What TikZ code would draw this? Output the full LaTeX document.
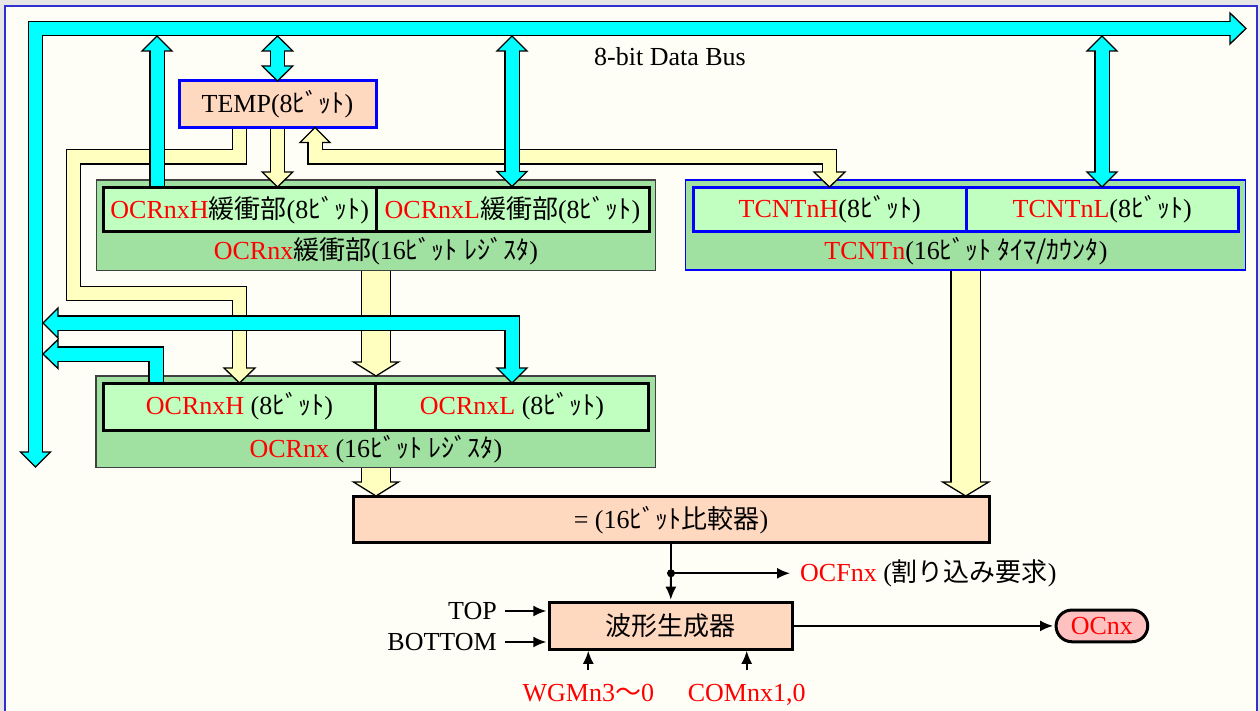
\documentclass[tikz,border=0pt]{standalone}
\usepackage{fontspec}
\setmainfont{Liberation Serif}
\newfontfamily\jp{Noto Sans CJK JP}
\usetikzlibrary{arrows.meta}

\definecolor{outerbg}{HTML}{E6E6E6}
\definecolor{pagebg}{HTML}{FFFEF6}
\definecolor{pageedge}{HTML}{3030D0}
\definecolor{regdark}{HTML}{A0E0A0}
\definecolor{reglight}{HTML}{C0FFC0}
\definecolor{peach}{HTML}{FFD8C0}
\definecolor{pinkfill}{HTML}{FFC0C0}
\definecolor{pathyel}{HTML}{FFFFC0}
\definecolor{busblue}{HTML}{0000FF}
\definecolor{busfill}{HTML}{00FFFF}

% half-width katakana words
\newcommand\hbit{{\jp ﾋﾞｯﾄ}}
\newcommand\hreg{{\jp ﾚｼﾞｽﾀ}}
\newcommand\rd[1]{\textcolor{red}{#1}}

% broad arrow: outline stroke, heads, then the fill stroke on top
% #1 fill colour, #2 outer width, #3 fill width, #4 path, #5 heads
\newcommand\fatarrow[5]{%
  \draw[black,line width=#2,line join=miter,line cap=butt] #4;
  #5%
  \draw[#1,line width=#3,line join=miter,line cap=butt] #4;}
% heads: #1 colour, #2 #3 tip, #4 half width, #5 length
\newcommand\headD[5]{\filldraw[fill=#1,draw=black,line width=1.3pt,line join=miter] (#2,#3) -- ++(-#4,-#5) -- ++(2*#4,0) -- cycle;}
\newcommand\headU[5]{\filldraw[fill=#1,draw=black,line width=1.3pt,line join=miter] (#2,#3) -- ++(-#4,#5) -- ++(2*#4,0) -- cycle;}
\newcommand\headL[5]{\filldraw[fill=#1,draw=black,line width=1.3pt,line join=miter] (#2,#3) -- ++(#5,-#4) -- ++(0,2*#4) -- cycle;}
\newcommand\headR[5]{\filldraw[fill=#1,draw=black,line width=1.3pt,line join=miter] (#2,#3) -- ++(-#5,-#4) -- ++(0,2*#4) -- cycle;}

\begin{document}
\begin{tikzpicture}[x=1pt,y=-1pt,font=\fontsize{26}{30}\selectfont,
  regouter/.style={draw=black!75,line width=1.3pt,fill=regdark,inner sep=0pt},
  tcouter/.style={draw=busblue,line width=1.5pt,fill=regdark,inner sep=0pt},
  cell/.style={draw=black,line width=3pt,fill=reglight,inner sep=0pt},
  tcell/.style={draw=busblue,line width=3pt,fill=reglight,inner sep=0pt},
  unitbox/.style={draw=black,line width=3pt,fill=peach,inner sep=0pt},
  txt/.style={inner sep=0pt},
  sig/.style={line width=1.8pt,-{Latex[length=13pt,width=11pt]}}]

\useasboundingbox (0,0) rectangle (1260,711);
\clip (0,0) rectangle (1260,711);
\fill[outerbg] (0,0) rectangle (1260,711);
\filldraw[fill=pagebg,draw=pageedge,line width=1.3pt] (5,6) rectangle (1257,730);

% bus label
\node[txt] (buslbl) at (670,57) {8-bit Data Bus};

% TEMP register
\node[draw=busblue,line width=3pt,fill=peach,inner sep=0pt,
      minimum width=197pt,minimum height=46.6pt] (temp) at (277.5,104) {TEMP(8\hbit)};

% OCRnx buffer
\node[regouter,minimum width=559pt,minimum height=90.7pt] (bufreg) at (376.2,225.3) {};
\node[cell,minimum width=272.7pt,minimum height=44pt] (bufH) at (239.7,209.7)
  {\rd{OCRnxH}{\jp 緩衝部}(8\hbit)};
\node[cell,minimum width=273pt,minimum height=44pt] (bufL) at (512.5,209.7)
  {\rd{OCRnxL}{\jp 緩衝部}(8\hbit)};
\node[txt] (buflbl) at (376,251) {\rd{OCRnx}{\jp 緩衝部}(16\hbit\ \hreg)};

% TCNTn
\node[tcouter,minimum width=560pt,minimum height=90pt] (tcreg) at (965.7,225) {};
\node[tcell,minimum width=272.7pt,minimum height=44.4pt] (tcH) at (829.7,209.5)
  {\rd{TCNTnH}(8\hbit)};
\node[tcell,minimum width=272.3pt,minimum height=44.4pt] (tcL) at (1102.2,209.5)
  {\rd{TCNTnL}(8\hbit)};
\node[txt] (tclbl) at (966,251) {\rd{TCNTn}(16{\jp ﾋﾞｯﾄ ﾀｲﾏ/ｶｳﾝﾀ})};

% OCRnx
\node[regouter,minimum width=559.7pt,minimum height=91.3pt] (ocrreg) at (375.9,421.7) {};
\node[cell,minimum width=272.4pt,minimum height=47pt] (ocrH) at (239.5,406.5)
  {\rd{OCRnxH} (8\hbit)};
\node[cell,minimum width=272.6pt,minimum height=47pt] (ocrL) at (512,406.5)
  {\rd{OCRnxL} (8\hbit)};
\node[txt] (ocrlbl) at (376,449) {\rd{OCRnx} (16\hbit\ \hreg)};

% comparator, waveform generator, output pin
\node[unitbox,minimum width=636pt,minimum height=46pt] (cmp) at (671,519.7)
  {= (16\hbit{\jp 比較器})};
\node[unitbox,minimum width=243pt,minimum height=46.6pt] (wave) at (670.8,626)
  {{\jp 波形生成器}};
\node[draw=black,line width=3pt,fill=pinkfill,rounded corners=15.8pt,inner sep=0pt,
      minimum width=91.7pt,minimum height=31.7pt] (ocnx) at (1101.9,625.9) {\rd{OCnx}};

% yellow transfer paths
\fatarrow{pathyel}{15.6pt}{13pt}
  {(239.5,128.8) -- (239.5,157) -- (73.3,157) -- (73.3,293.5) -- (239.5,293.5) -- (239.5,369.5)}
  {\headD{pathyel}{239.5}{383}{15.5}{15}}
\fatarrow{pathyel}{15.6pt}{13pt}
  {(277.5,128.8) -- (277.5,173.5)}
  {\headD{pathyel}{277.5}{187}{15.3}{15}}
\fatarrow{pathyel}{15.6pt}{13pt}
  {(315,141) -- (315,157) -- (829.5,157) -- (829.5,173.5)}
  {\headU{pathyel}{315}{127.5}{15}{15}\headD{pathyel}{829.5}{187}{15.5}{15}}
\fatarrow{pathyel}{30.6pt}{28pt}
  {(376,271.3) -- (376,363.5)}
  {\headD{pathyel}{376}{376}{22.5}{14}}
\fatarrow{pathyel}{30.6pt}{28pt}
  {(376,468) -- (376,483.5)}
  {\headD{pathyel}{376}{496}{22.5}{14}}
\fatarrow{pathyel}{30.6pt}{28pt}
  {(965.7,270.8) -- (965.7,483.5)}
  {\headD{pathyel}{965.7}{496}{23}{14}}

% 8-bit data bus and its branches
\fatarrow{busfill}{15.6pt}{13pt}
  {(35.5,453.5) -- (35.5,28.5) -- (1231.5,28.5)}
  {\headD{busfill}{35.5}{467}{15}{15}\headR{busfill}{1246}{28.5}{15.5}{16}}
\fatarrow{busfill}{15.6pt}{13pt}
  {(157,186) -- (157,49.5)}
  {\headU{busfill}{157}{36}{15}{15}}
\fatarrow{busfill}{15.6pt}{13pt}
  {(277.5,49.5) -- (277.5,67.5)}
  {\headU{busfill}{277.5}{36}{15.3}{15}\headD{busfill}{277.5}{81}{15.3}{15}}
\fatarrow{busfill}{15.6pt}{13pt}
  {(512,49.5) -- (512,173)}
  {\headU{busfill}{512}{36}{15}{15}\headD{busfill}{512}{186.5}{15}{15}}
\fatarrow{busfill}{15.6pt}{13pt}
  {(1102,49.5) -- (1102,173.5)}
  {\headU{busfill}{1102}{36}{15}{15}\headD{busfill}{1102}{187}{15}{15}}
\fatarrow{busfill}{15.6pt}{13pt}
  {(56.5,323) -- (512,323) -- (512,369.5)}
  {\headL{busfill}{43}{323}{15}{15}\headD{busfill}{512}{383}{15}{15}}
\fatarrow{busfill}{15.6pt}{13pt}
  {(156,382) -- (156,354) -- (56.5,354)}
  {\headL{busfill}{43}{354}{14.5}{15}}

% control signals
\node[txt,anchor=west] (ocf) at (800,573.3) {\rd{OCFnx} ({\jp 割り込み要求})};
\node[txt,anchor=east] (toplbl) at (497,611) {TOP};
\node[txt,anchor=east] (botlbl) at (497,642) {BOTTOM};
\node[txt,anchor=base] (wgm) at (588.3,701.5) {\rd{WGMn3{\jp ～}0}};
\node[txt,anchor=base] (com) at (746.7,701.5) {\rd{COMnx1,0}};
\coordinate (split) at (671,573.3);

\draw[sig,shorten >=1.5pt] (cmp.south) -- (wave.north);
\fill (split) circle (4pt);
\draw[sig] (split) -- ([xshift=-10pt]ocf.west);
\draw[sig,shorten >=1.5pt] ([xshift=8pt]toplbl.east) -- (toplbl -| wave.west);
\draw[sig,shorten >=1.5pt] ([xshift=8pt]botlbl.east) -- (botlbl -| wave.west);
\draw[sig,shorten >=1.5pt] (588.3,670) -- (588.3,649.3);
\draw[sig,shorten >=1.5pt] (746.7,670) -- (746.7,649.3);
\draw[sig,shorten >=1.5pt] (wave.east) -- (ocnx.west);
\end{tikzpicture}
\end{document}
